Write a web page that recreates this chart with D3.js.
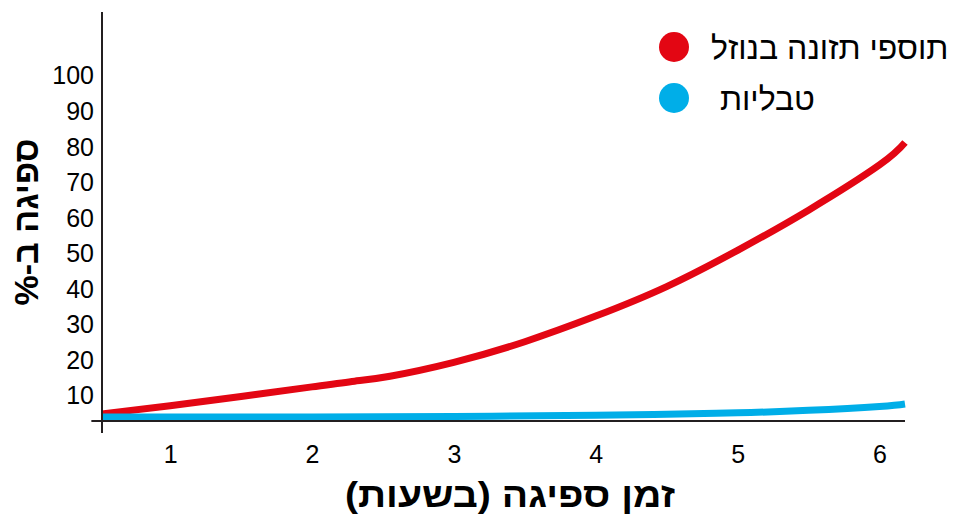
<!DOCTYPE html>
<html>
<head>
<meta charset="utf-8">
<script src="https://cdn.jsdelivr.net/npm/d3@7"></script>
<style>
  html, body { margin: 0; padding: 0; background: #fff; }
  svg { display: block; }
  text { font-family: "Liberation Sans", Arial, sans-serif; }
</style>
</head>
<body>
<svg id="chart" width="953" height="515"></svg>
<script>
// ---- data ----
const seriesNames = ["תוספי תזונה בנוזל", " טבליות"];
const seriesColors = ["#e30613", "#00aee8"];
const liquidHours = [0.52, 1.0, 1.5, 2.0, 2.3, 2.55, 3.0, 3.5, 4.0, 4.5, 5.0, 5.5, 6.0, 6.18];
const liquidValues = [2.0, 4.3, 6.9, 9.6, 11.2, 12.6, 16.5, 22.3, 29.5, 37.8, 48.0, 59.3, 72.0, 78.3];
const tabletHours = [0.52, 1.0, 2.0, 3.0, 4.0, 4.5, 5.0, 5.5, 6.0, 6.18];
const tabletValues = [1.1, 1.1, 1.15, 1.3, 1.6, 1.9, 2.3, 3.0, 4.1, 4.8];
const xTicks = [1, 2, 3, 4, 5, 6];
const yTicks = [10, 20, 30, 40, 50, 60, 70, 80, 90, 100];
const xTitle = "זמן ספיגה (בשעות)";
const yTitle = "ספיגה ב-%";

// ---- scales ----
const svg = d3.select("#chart");
const x = d3.scaleLinear().domain([0.52, 6.18]).range([102, 905]);
const y = d3.scaleLinear().domain([0, 100]).range([421, 65.4]);
const axisColor = "#231f20";

// ---- lines ----
const line = d3.line().x(d => x(d[0])).y(d => y(d[1])).curve(d3.curveNatural);
const series = [
  d3.zip(liquidHours, liquidValues),
  d3.zip(tabletHours, tabletValues)
];
series.forEach((s, i) => {
  svg.append("path")
    .datum(s)
    .attr("d", line)
    .attr("fill", "none")
    .attr("stroke", seriesColors[i])
    .attr("stroke-width", 7)
    .attr("stroke-linecap", "butt");
});

// ---- axes ----
const yAxis = d3.axisLeft(y).tickValues(yTicks).tickFormat(d3.format("d")).tickSize(0).tickPadding(0);
const gy = svg.append("g").attr("transform", `translate(${x(0.52) - 8},0)`).call(yAxis);
gy.select(".domain").remove();
gy.selectAll("text")
  .attr("fill", "#000")
  .attr("font-size", 25)
  .attr("font-family", "Liberation Sans, Arial, sans-serif")
  .attr("dy", null)
  .attr("y", 18.5);

const xAxis = d3.axisBottom(x).tickValues(xTicks).tickFormat(d3.format("d")).tickSize(0).tickPadding(0);
const gx = svg.append("g").attr("transform", `translate(0,${y(0)})`).call(xAxis);
gx.select(".domain").remove();
gx.selectAll("text")
  .attr("fill", "#000")
  .attr("font-size", 25)
  .attr("font-family", "Liberation Sans, Arial, sans-serif")
  .attr("dy", null)
  .attr("y", 41.5);

// axis lines
svg.append("line")
  .attr("x1", x(0.52)).attr("x2", x(0.52))
  .attr("y1", y(115)).attr("y2", y(-3.4))
  .attr("stroke", axisColor).attr("stroke-width", 2);
svg.append("line")
  .attr("x1", x(0.445)).attr("x2", x(6.18))
  .attr("y1", y(0)).attr("y2", y(0))
  .attr("stroke", axisColor).attr("stroke-width", 2);

// ---- titles ----
svg.append("text")
  .attr("x", 510).attr("y", 507)
  .attr("text-anchor", "middle")
  .attr("direction", "rtl")
  .attr("font-size", 35)
  .attr("font-weight", "bold")
  .attr("textLength", 330)
  .attr("lengthAdjust", "spacingAndGlyphs")
  .attr("fill", "#000")
  .text(xTitle);

svg.append("text")
  .attr("transform", "translate(38,222) rotate(-90)")
  .attr("text-anchor", "middle")
  .attr("direction", "rtl")
  .attr("font-size", 34)
  .attr("font-weight", "bold")
  .attr("textLength", 167)
  .attr("lengthAdjust", "spacingAndGlyphs")
  .attr("fill", "#000")
  .text(yTitle);

// ---- legend ----
const legendY = [47, 98];
seriesNames.forEach((name, i) => {
  svg.append("circle")
    .attr("cx", 674).attr("cy", legendY[i]).attr("r", 15)
    .attr("fill", seriesColors[i]);
  svg.append("text")
    .attr("x", 711).attr("y", legendY[i] + 12)
    .attr("text-anchor", "start")
    .style("white-space", "pre")
    .attr("font-size", 32)
    .attr("fill", "#000")
    .text(name);
});
</script>
</body>
</html>
